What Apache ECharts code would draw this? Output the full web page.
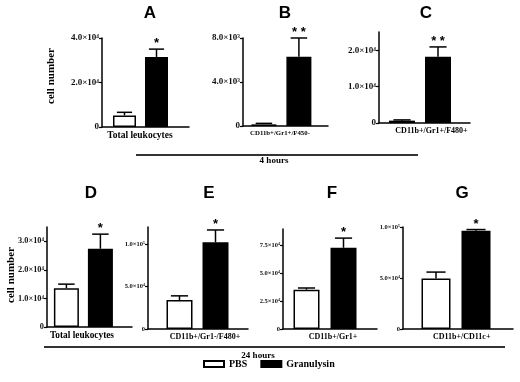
<!DOCTYPE html>
<html>
<head>
<meta charset="utf-8">
<script src="https://cdn.jsdelivr.net/npm/echarts@6/dist/echarts.min.js"></script>
<style>
  html, body { margin: 0; padding: 0; background: #fff; }
  #chart { width: 520px; height: 382px; }
</style>
</head>
<body>
<div id="chart"></div>
<script>
// data (cell counts)
var panels = ["A", "B", "C", "D", "E", "F", "G"];
var categories = [
  "Total leukocytes", "CD11b+/Gr1+/F450-", "CD11b+/Gr1+/F480+",
  "Total leukocytes", "CD11b+/Gr1-/F480+", "CD11b+/Gr1+", "CD11b+/CD11c+"
];
var pbsMean = [5200, 150, 650, 13600, 34100, 35300, 49600];
var pbsErrTop = [6600, 240, 850, 15000, 39000, 36900, 55800];
var granMean = [31500, 6300, 18200, 27400, 102000, 73100, 96300];
var granErrTop = [35000, 8000, 20900, 32500, 116500, 81800, 97500];
var stars = ["*", "* *", "* *", "*", "*", "*", "*"];
var yMax = [40000, 8000, 25000, 35000, 120000, 90000, 100000];
var yTicks = [
  [0, 20000, 40000],
  [0, 4000, 8000],
  [0, 10000, 20000],
  [0, 10000, 20000, 30000],
  [0, 50000, 100000],
  [0, 25000, 50000, 75000],
  [0, 50000, 100000]
];
var seriesNames = ["PBS", "Granulysin"];
var groupLabels = ["4 hours", "24 hours"];

// layout of each panel (pixels): axis box, bar pair centre, label offset, font sizes, title spot
var layout = [
  { left: 102, top: 38, right: 189, bottom: 127, cx: 140.5, barW: 23, gap: 9, dx: -5.5, fs: 9.5, tfs: 9, tx: 145, ty: 0 },
  { left: 243, top: 38, right: 328, bottom: 126, cx: 281.4, barW: 25, gap: 10, dx: -5.5, fs: 6.8, tfs: 9, tx: 280, ty: 0 },
  { left: 379, top: 32, right: 470, bottom: 123, cx: 420, barW: 26, gap: 10, dx: 7, fs: 8, tfs: 9, tx: 421, ty: 0 },
  { left: 47, top: 227, right: 132, bottom: 327, cx: 83.4, barW: 25, gap: 9, dx: -7.5, fs: 9.3, tfs: 8.3, tx: 86, ty: 180 },
  { left: 148, top: 227, right: 248, bottom: 329, cx: 197.5, barW: 26, gap: 10, dx: 7, fs: 8, tfs: 6.5, tx: 204, ty: 180 },
  { left: 283, top: 229, right: 377, bottom: 329, cx: 325, barW: 26, gap: 11, dx: 3, fs: 8, tfs: 6.5, tx: 327, ty: 180 },
  { left: 403, top: 227, right: 513, bottom: 329, cx: 456, barW: 29, gap: 11, dx: 3.7, fs: 8, tfs: 6.5, tx: 457, ty: 180 }
];

var serif = "Liberation Serif";
var sup = { "0": "\u2070", "1": "\u00b9", "2": "\u00b2", "3": "\u00b3", "4": "\u2074", "5": "\u2075", "6": "\u2076" };

function sci(v) {
  if (v === 0) return "0";
  var e = Math.floor(Math.log10(v) + 1e-9);
  var m = v / Math.pow(10, e);
  return m.toFixed(1) + "\u00d710" + sup[String(e)];
}

var chart = echarts.init(document.getElementById("chart"));

var grids = [], xAxes = [], yAxes = [], titles = [], series = [];

panels.forEach(function (p, i) {
  var g = layout[i];
  var h = g.bottom - g.top;
  var frame = 2 * i, plot = 2 * i + 1;
  // frame grid carries the visible axes, plot grid carries the bars
  grids.push({ left: g.left, top: g.top, width: g.right - g.left, height: h });
  grids.push({ left: g.cx - 40, top: g.top, width: 80, height: h });
  titles.push({
    text: p, left: g.tx, top: g.ty, textAlign: "center",
    textStyle: { fontFamily: "Liberation Sans", fontWeight: "bold", fontSize: 17, color: "#000" }
  });
  xAxes.push({
    gridIndex: frame, type: "category", data: [categories[i]],
    axisLine: { lineStyle: { color: "#000", width: 1.5 } },
    axisTick: { show: false },
    axisLabel: {
      color: "#000", fontFamily: serif, fontWeight: "bold", fontSize: g.fs, margin: 4, interval: 0,
      padding: g.dx > 0 ? [0, 0, 0, 2 * g.dx] : [0, -2 * g.dx, 0, 0]
    }
  });
  xAxes.push({ gridIndex: plot, type: "category", data: [""], show: false });
  yAxes.push({
    gridIndex: frame, type: "value", min: 0, max: yMax[i],
    splitLine: { show: false },
    axisLine: { show: true, lineStyle: { color: "#000", width: 1.5 } },
    axisTick: { show: true, length: 3, customValues: yTicks[i], lineStyle: { color: "#000", width: 1.2 } },
    axisLabel: {
      customValues: yTicks[i], formatter: sci, margin: 3,
      color: "#111", fontFamily: serif, fontWeight: "bold", fontSize: g.tfs
    }
  });
  yAxes.push({ gridIndex: plot, type: "value", min: 0, max: yMax[i], show: false, splitLine: { show: false } });

  var gapPct = (g.gap / g.barW * 100) + "%";
  series.push({
    name: seriesNames[0], type: "bar", xAxisIndex: plot, yAxisIndex: plot,
    barWidth: g.barW, barGap: gapPct,
    itemStyle: { color: "#fff", borderColor: "#000", borderWidth: 1.5 },
    data: [pbsMean[i]]
  });
  series.push({
    name: seriesNames[1], type: "bar", xAxisIndex: plot, yAxisIndex: plot,
    barWidth: g.barW, barGap: gapPct,
    itemStyle: { color: "#000", borderColor: "#000", borderWidth: 1.5 },
    data: [granMean[i]]
  });
  // error bars + significance stars
  series.push({
    type: "custom", xAxisIndex: plot, yAxisIndex: plot, z: 5,
    data: [[0, pbsMean[i], pbsErrTop[i], -1], [0, granMean[i], granErrTop[i], 1]],
    renderItem: function (params, api) {
      var side = api.value(3);
      var base = api.coord([api.value(0), api.value(1)]);
      var top = api.coord([api.value(0), api.value(2)]);
      var x = base[0] + side * (g.barW + g.gap) / 2;
      var cap = g.barW * 0.33;
      var st = { stroke: "#000", lineWidth: 1.5 };
      var kids = [
        { type: "line", shape: { x1: x, y1: base[1], x2: x, y2: top[1] }, style: st },
        { type: "line", shape: { x1: x - cap, y1: top[1], x2: x + cap, y2: top[1] }, style: st }
      ];
      if (side > 0) {
        kids.push({
          type: "text", x: x, y: top[1] + 1,
          style: { text: stars[i], fill: "#000", font: "bold 13px Liberation Sans", align: "center", verticalAlign: "bottom" }
        });
      }
      return { type: "group", children: kids };
    }
  });
});

var option = {
  animation: false,
  title: titles,
  grid: grids,
  xAxis: xAxes,
  yAxis: yAxes,
  series: series,
  legend: {
    data: seriesNames, left: 203, top: 359, padding: 0, itemWidth: 20, itemHeight: 6, itemGap: 13,
    icon: "rect",
    textStyle: { color: "#000", fontFamily: serif, fontWeight: "bold", fontSize: 10 }
  },
  graphic: [
    { type: "line", shape: { x1: 136, y1: 155, x2: 418, y2: 155 }, style: { stroke: "#333", lineWidth: 2 } },
    { type: "text", x: 274, y: 161, style: { text: groupLabels[0], fill: "#000", font: "bold 9px Liberation Serif", align: "center", verticalAlign: "middle" } },
    { type: "line", shape: { x1: 44, y1: 347, x2: 505, y2: 347 }, style: { stroke: "#333", lineWidth: 2 } },
    { type: "text", x: 258, y: 356, style: { text: groupLabels[1], fill: "#000", font: "bold 9px Liberation Serif", align: "center", verticalAlign: "middle" } },
    { type: "text", x: 51, y: 76, rotation: Math.PI / 2, style: { text: "cell number", fill: "#000", font: "bold 11px Liberation Serif", align: "center", verticalAlign: "middle" } },
    { type: "text", x: 11, y: 275, rotation: Math.PI / 2, style: { text: "cell number", fill: "#000", font: "bold 11px Liberation Serif", align: "center", verticalAlign: "middle" } }
  ]
};

chart.setOption(option);
</script>
</body>
</html>
